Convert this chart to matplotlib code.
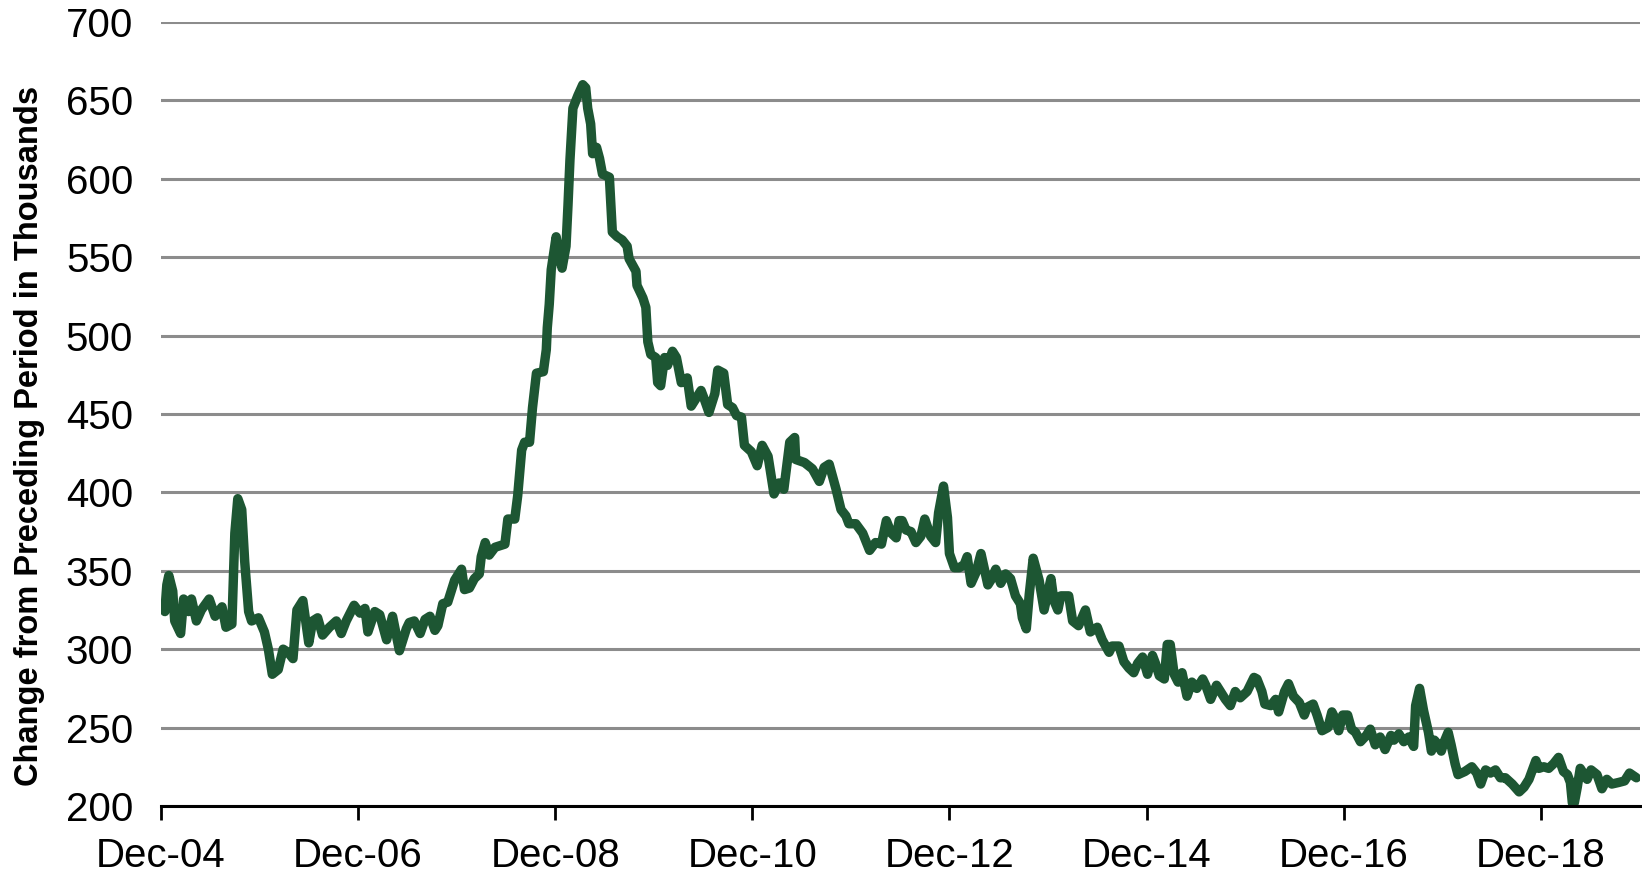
import matplotlib
matplotlib.use("Agg")
import matplotlib.pyplot as plt
import numpy as np

years = [
    2004.93, 2004.96, 2004.98, 2005.00, 2005.04, 2005.06, 2005.12, 2005.15, 2005.20, 2005.23,
    2005.28, 2005.33, 2005.41, 2005.47, 2005.54, 2005.58, 2005.64, 2005.67, 2005.70, 2005.74,
    2005.77, 2005.81, 2005.84, 2005.91, 2005.97, 2006.01, 2006.05, 2006.11, 2006.16, 2006.21,
    2006.26, 2006.30, 2006.36, 2006.42, 2006.46, 2006.51, 2006.56, 2006.63, 2006.70, 2006.75,
    2006.80, 2006.88, 2006.94, 2006.99, 2007.02, 2007.09, 2007.14, 2007.21, 2007.27, 2007.34,
    2007.41, 2007.44, 2007.49, 2007.55, 2007.60, 2007.65, 2007.70, 2007.73, 2007.78, 2007.83,
    2007.90, 2007.97, 2008.00, 2008.05, 2008.10, 2008.15, 2008.17, 2008.21, 2008.25, 2008.31,
    2008.41, 2008.44, 2008.51, 2008.54, 2008.58, 2008.61, 2008.66, 2008.69, 2008.73, 2008.80,
    2008.83, 2008.84, 2008.86, 2008.88, 2008.93, 2008.96, 2008.99, 2009.03, 2009.05, 2009.07,
    2009.10, 2009.15, 2009.20, 2009.23, 2009.25, 2009.28, 2009.30, 2009.34, 2009.37, 2009.40,
    2009.47, 2009.50, 2009.55, 2009.60, 2009.65, 2009.67, 2009.74, 2009.75, 2009.81, 2009.84,
    2009.86, 2009.89, 2009.94, 2009.96, 2009.99, 2010.03, 2010.06, 2010.11, 2010.15, 2010.20,
    2010.26, 2010.30, 2010.35, 2010.40, 2010.43, 2010.48, 2010.54, 2010.57, 2010.63, 2010.67,
    2010.72, 2010.76, 2010.81, 2010.84, 2010.91, 2010.97, 2011.02, 2011.08, 2011.14, 2011.19,
    2011.24, 2011.30, 2011.35, 2011.36, 2011.45, 2011.53, 2011.60, 2011.65, 2011.70, 2011.77,
    2011.82, 2011.87, 2011.90, 2011.97, 2012.04, 2012.11, 2012.17, 2012.23, 2012.28, 2012.33,
    2012.38, 2012.41, 2012.44, 2012.48, 2012.53, 2012.58, 2012.63, 2012.67, 2012.73, 2012.78,
    2012.81, 2012.86, 2012.90, 2012.92, 2012.97, 2013.02, 2013.07, 2013.10, 2013.14, 2013.19,
    2013.24, 2013.31, 2013.34, 2013.39, 2013.44, 2013.49, 2013.54, 2013.59, 2013.64, 2013.66,
    2013.70, 2013.73, 2013.77, 2013.83, 2013.88, 2013.95, 2013.98, 2014.02, 2014.05, 2014.13,
    2014.17, 2014.23, 2014.30, 2014.35, 2014.42, 2014.47, 2014.54, 2014.57, 2014.64, 2014.69,
    2014.74, 2014.79, 2014.83, 2014.88, 2014.93, 2014.98, 2015.01, 2015.05, 2015.10, 2015.13,
    2015.16, 2015.20, 2015.24, 2015.28, 2015.33, 2015.38, 2015.43, 2015.49, 2015.52, 2015.57,
    2015.63, 2015.67, 2015.72, 2015.77, 2015.82, 2015.87, 2015.94, 2016.01, 2016.04, 2016.09,
    2016.12, 2016.18, 2016.23, 2016.26, 2016.32, 2016.36, 2016.41, 2016.47, 2016.52, 2016.55,
    2016.61, 2016.65, 2016.70, 2016.76, 2016.80, 2016.84, 2016.87, 2016.91, 2016.96, 2017.00,
    2017.04, 2017.09, 2017.15, 2017.19, 2017.24, 2017.29, 2017.34, 2017.40, 2017.43, 2017.48,
    2017.53, 2017.58, 2017.63, 2017.65, 2017.69, 2017.73, 2017.78, 2017.81, 2017.84, 2017.88,
    2017.91, 2017.94, 2017.98, 2018.01, 2018.05, 2018.08, 2018.15, 2018.22, 2018.27, 2018.31,
    2018.36, 2018.41, 2018.46, 2018.51, 2018.56, 2018.63, 2018.70, 2018.75, 2018.80, 2018.87,
    2018.90, 2018.95, 2019.00, 2019.05, 2019.10, 2019.15, 2019.19, 2019.22, 2019.24, 2019.26,
    2019.29, 2019.32, 2019.35, 2019.39, 2019.43, 2019.49, 2019.54, 2019.59, 2019.64, 2019.71,
    2019.77, 2019.82, 2019.89,
]
values = [
    328, 324, 341, 347, 337, 318, 310, 332, 324, 332,
    318, 325, 332, 321, 327, 314, 316, 374, 396, 389,
    356, 324, 318, 320, 311, 300, 284, 287, 300, 298,
    294, 325, 331, 304, 318, 320, 309, 314, 318, 310,
    318, 328, 323, 326, 311, 324, 322, 306, 321, 299,
    313, 317, 318, 310, 319, 321, 312, 315, 329, 330,
    344, 351, 338, 339, 345, 348, 359, 368, 360, 365,
    367, 383, 383, 398, 427, 432, 432, 454, 476, 477,
    491, 505, 520, 542, 563, 552, 543, 557, 583, 612,
    645, 653, 660, 658, 645, 635, 616, 620, 613, 603,
    601, 566, 563, 561, 557, 549, 541, 532, 524, 518,
    496, 488, 486, 470, 468, 486, 481, 490, 486, 470,
    473, 455, 460, 465, 460, 451, 463, 478, 476, 456,
    454, 449, 448, 430, 426, 417, 430, 423, 399, 406,
    402, 432, 435, 421, 419, 415, 407, 416, 418, 402,
    389, 385, 380, 380, 374, 363, 368, 367, 382, 374,
    371, 382, 382, 376, 375, 368, 372, 383, 372, 368,
    387, 404, 384, 361, 352, 352, 354, 359, 342, 349,
    361, 341, 344, 351, 342, 348, 345, 334, 329, 320,
    313, 335, 358, 344, 325, 345, 331, 325, 334, 334,
    318, 315, 325, 311, 314, 306, 298, 302, 302, 292,
    288, 285, 291, 295, 284, 296, 291, 283, 281, 303,
    303, 284, 279, 285, 270, 279, 275, 281, 277, 268,
    277, 273, 268, 264, 273, 269, 273, 282, 281, 273,
    265, 264, 268, 260, 273, 278, 270, 266, 258, 263,
    265, 258, 248, 250, 260, 255, 248, 258, 258, 249,
    247, 241, 245, 249, 239, 244, 236, 245, 242, 246,
    241, 244, 238, 264, 275, 261, 247, 235, 242, 239,
    235, 241, 247, 239, 227, 220, 222, 225, 221, 214,
    223, 221, 223, 218, 218, 214, 209, 212, 217, 229,
    224, 225, 224, 227, 231, 222, 220, 215, 202, 202,
    212, 224, 221, 217, 223, 220, 211, 217, 214, 215,
    216, 221, 218,
]
tick_years = [2004.92, 2006.92, 2008.92, 2010.92, 2012.92, 2014.92, 2016.92, 2018.92]
tick_labels = ["Dec-04", "Dec-06", "Dec-08", "Dec-10", "Dec-12", "Dec-14", "Dec-16", "Dec-18"]

plt.rcParams['font.family'] = ['Liberation Sans', 'DejaVu Sans']

fig = plt.figure(figsize=(16.42, 8.72), dpi=100)
ax = fig.add_axes([0.098, 0.0757, 0.901, 0.8991])

ax.plot(years, values, color='#1d5633', lw=6.8, solid_joinstyle='round', solid_capstyle='round', zorder=3)

ax.set_ylim(200, 700)
ax.set_yticks(np.arange(200, 701, 50))
ax.set_xlim(2004.92, 2019.93)
ax.set_xticks(tick_years)
ax.set_xticklabels(tick_labels)

ax.yaxis.grid(True, color='#8c8c8c', lw=2.2)
ax.set_axisbelow(True)
for s in ['left', 'right', 'top']:
    ax.spines[s].set_visible(False)
ax.spines['bottom'].set_color('black')
ax.spines['bottom'].set_linewidth(2.2)
ax.spines['bottom'].set_zorder(4)

ax.tick_params(axis='y', length=0, pad=20, labelsize=29)
ax.tick_params(axis='x', direction='out', length=10, width=2, pad=12, labelsize=29)

fig.text(0.0177, 0.5, "Change from Preceding Period in Thousands", rotation=90,
         ha='center', va='center', fontsize=23.5, fontweight='bold')

fig.savefig("out.png", dpi=100)
